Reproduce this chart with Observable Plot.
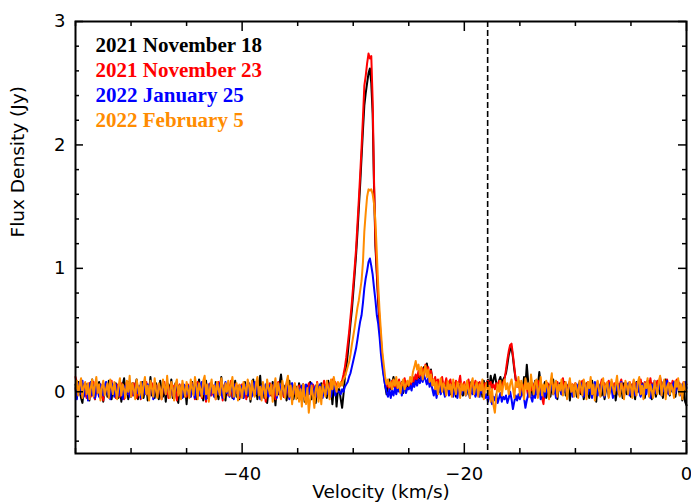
<!DOCTYPE html>
<html>
<head>
<meta charset="utf-8">
<script src="https://cdn.jsdelivr.net/npm/d3@7"></script>
<script src="https://cdn.jsdelivr.net/npm/@observablehq/plot@0.6"></script>
<style>html,body{margin:0;padding:0;background:#fff;}</style>
</head>
<body>
<div id="chart"></div>
<script>
// ---- data, flux in units of 0.01 Jy ----
const seriesNames = ["2021 November 18", "2021 November 23", "2022 January 25", "2022 February 5"];
const seriesColors = ["#000000", "#ff0000", "#0000ff", "#ff8c00"];
const vStart = -55;     // first channel (km/s)
const vStep = 0.125;    // channel width (km/s)

const nov18 = [
6,-3,8,1,-5,-9,2,7,-4,3,-7,5,10,-2,-6,4,-1,8,-5,2,-8,3,6,-4,9,0,-6,5,-3,7,2,-5,4,-8,6,11,-2,3,-6,4,
-4,7,-2,5,10,-6,2,-3,8,-5,3,6,-7,1,12,-3,4,-5,7,0,-6,9,2,-4,5,-8,3,6,-2,10,-5,2,7,-3,-9,4,-1,6,-4,3,
-10,5,2,-4,8,-2,6,-6,3,10,-3,4,-7,2,9,-5,1,6,-2,5,-4,8,0,-6,3,12,-2,4,-7,5,2,-3,7,-5,1,9,-4,3,-6,4,
3,-5,8,1,-4,6,-8,2,10,-3,5,-6,4,13,-2,7,-5,3,-9,1,6,-3,8,2,-11,4,-2,7,14,3,-4,5,-7,2,9,-3,5,-6,1,4,
-5,7,2,-4,6,-8,3,5,-2,8,-6,4,0,-9,5,2,-4,7,-3,6,1,-5,9,-2,4,-10,3,6,-12,2,2,-6,-13,-2,12,20,30,42,55,66,
80,95,110,128,148,168,190,212,232,242,250,258,262,250,225,165,118,95,72,55,38,25,14,5,-2,6,10,2,7,12,4,9,1,6,3,8,-1,5,2,7,
3,8,5,10,7,13,9,15,11,18,14,20,17,23,16,12,18,9,6,10,3,7,0,5,9,2,-3,6,4,8,-2,5,1,7,-4,3,6,0,4,-3,
5,2,7,-2,4,8,1,6,-3,3,7,0,5,-4,9,3,6,10,2,13,5,10,14,7,3,9,12,6,10,12,15,22,30,34,36,28,18,10,5,9,
3,7,0,12,5,22,8,2,6,-3,4,9,1,5,16,6,-2,3,8,-5,2,6,-4,4,10,0,5,-6,3,7,-2,4,8,-3,2,6,-7,3,5,0,
6,-4,3,8,-2,5,-6,2,7,0,-5,4,9,-2,3,-8,5,1,6,-3,4,-6,2,7,-4,3,8,-1,5,-7,2,6,-3,4,-5,7,1,-2,5,3,
-4,6,2,-6,8,0,4,-3,7,2,-5,5,9,-2,3,-6,6,1,-4,7,3,-2,8,-5,4,10,-1,5,-3,6,0,7,-4,3,9,-2,5,-7,2,-8,
-11];

const nov23 = [
12,7,-2,4,9,-3,6,1,-5,3,7,-4,2,8,-6,3,5,-2,6,0,-7,4,2,6,-3,5,9,-1,3,-5,6,2,-4,7,1,-6,4,8,-2,3,
5,-3,7,1,-5,4,2,-6,6,3,-2,8,0,-5,4,7,-3,2,5,-4,6,1,-6,3,8,-2,4,-5,2,7,-3,5,1,-7,4,6,-2,3,0,5,
-4,6,2,-3,7,0,-6,4,8,-2,3,-5,6,1,-8,4,2,7,-3,5,0,-6,4,8,-2,3,-7,5,1,6,-3,4,9,-4,2,6,-1,5,-5,3,
6,-2,4,-6,5,1,-4,7,2,-3,5,9,-2,3,-5,6,0,-8,4,2,7,-3,5,1,-6,4,8,-2,3,6,-4,2,7,0,-5,5,3,-2,6,1,
-3,5,2,-5,6,1,4,-4,7,2,-2,6,3,-4,8,1,5,-3,4,9,2,6,0,7,4,10,3,8,5,6,4,6,9,14,20,28,38,48,60,72,
86,100,115,135,155,176,198,222,248,256,266,274,270,272,236,170,122,98,76,58,42,28,15,8,4,7,2,5,9,4,8,2,6,10,3,7,5,11,4,8,
6,10,4,12,8,14,10,17,12,15,19,13,22,16,20,12,17,10,6,12,5,10,2,8,12,4,6,11,3,7,10,2,6,4,9,0,7,13,3,5,
8,2,6,10,3,-1,7,4,9,2,5,8,1,6,3,7,4,9,5,8,3,6,2,7,4,9,6,3,8,10,18,26,33,38,39,30,20,10,4,7,
2,6,-2,5,8,3,-4,6,1,7,4,-2,5,9,3,6,-5,-10,2,5,7,1,4,10,3,6,0,8,5,2,6,11,3,7,1,5,9,2,6,4,
7,2,5,-1,6,9,3,0,5,8,2,6,4,-2,7,3,8,1,5,10,4,7,2,6,9,3,5,0,7,4,8,2,6,10,4,1,7,5,3,8,
5,2,9,4,7,1,6,10,3,5,8,2,6,4,11,3,7,0,5,9,4,12,6,2,8,5,10,3,7,4,9,2,6,10,3,7,1,5,8,4,
6];

const jan25 = [
3,-6,7,-2,5,9,-4,2,6,-7,4,8,-3,5,-5,7,1,-4,6,2,-3,5,8,-2,4,-6,7,3,-4,6,1,-3,7,4,-6,3,5,-2,8,-4,
4,6,-3,3,7,-1,5,-5,4,8,-2,3,6,-4,5,2,-6,7,2,-3,5,1,-5,6,3,-2,8,2,-4,5,3,-6,4,7,-2,5,1,-5,6,3,
-2,5,2,-4,6,3,-5,7,1,-3,5,8,-2,3,-6,4,6,-3,5,1,-4,6,3,-2,7,0,-5,4,8,-1,3,-4,5,2,-6,6,1,4,-3,5,
2,-5,6,3,-3,7,1,-4,5,8,-2,4,2,-6,5,3,-2,6,0,-4,5,2,-3,7,4,-5,3,6,-2,4,1,-4,5,3,-6,4,7,-1,3,-3,
4,2,-4,5,1,-5,6,3,-2,4,7,-3,2,5,-4,3,6,0,-5,4,2,-2,5,1,-4,3,6,-3,2,0,0,-2,2,0,4,6,8,12,15,20,
25,30,35,42,50,57,62,72,84,92,98,105,108,102,95,84,74,62,55,44,30,20,12,5,0,-4,2,-5,1,-3,3,-2,4,0,5,-3,2,6,-1,3,
2,5,1,7,4,9,5,10,7,12,8,13,10,6,11,4,8,2,-3,4,-5,2,5,-2,3,6,-4,1,4,-3,2,5,-4,1,3,-5,4,0,-2,3,
1,-3,4,0,-5,3,-2,5,-4,2,0,-4,3,-1,2,-5,-2,-8,-3,-6,-10,-4,-7,-2,-9,-5,-1,-8,-4,-6,-3,-9,-5,0,-6,-14,-8,-3,-7,-2,
-6,-3,1,-5,-13,-7,-2,2,-4,-8,0,-5,2,-3,4,-6,-1,3,-4,0,4,-3,2,5,-2,3,-5,1,6,2,-2,4,0,6,-3,3,7,1,-4,4,
2,6,-3,4,7,0,-4,5,3,-2,6,1,-5,4,8,2,-3,5,0,6,3,-4,5,2,-2,7,3,-5,4,1,6,-2,3,8,0,-4,5,2,7,-3,
4,1,6,-3,5,8,0,-4,6,2,7,-2,4,1,-5,6,3,9,-1,4,2,7,-3,5,0,6,9,-2,4,1,5,8,-1,4,7,2,-3,6,3,8,
3];

const feb5 = [
2,9,-3,6,11,-5,4,8,-2,7,-6,3,10,-4,5,12,-1,6,-7,4,9,-3,2,7,-5,10,4,-2,8,1,-6,5,11,-3,6,2,-5,9,0,13,
-4,7,2,-6,10,4,-3,8,-5,6,12,-2,5,-7,9,3,-4,11,1,-5,7,2,-6,10,4,-2,13,0,-5,8,3,-7,6,10,-3,5,-6,9,2,-4,
8,1,-5,10,3,-3,12,5,-6,7,2,-4,9,13,-2,6,-8,4,10,-1,5,-6,8,2,-3,11,4,-5,7,0,9,-3,5,12,-4,3,7,-7,6,2,
-5,8,3,-2,10,5,-6,9,1,-4,7,12,-3,4,-7,8,2,-5,10,3,-2,6,-8,4,11,-3,7,0,-6,9,2,-5,8,13,-4,5,-10,3,7,-6,
4,-8,2,-12,6,-5,-10,3,-17,-6,5,-3,-13,2,7,-8,4,-10,6,1,-4,9,3,-6,10,2,12,5,0,8,4,8,5,10,12,16,20,24,30,38,
45,52,60,68,74,82,90,105,130,145,158,164,163,164,160,152,138,112,86,65,48,32,22,12,6,10,4,8,2,10,5,12,3,8,-1,7,10,2,6,9,
5,12,8,16,20,25,18,22,14,20,10,16,21,12,18,8,14,5,10,2,8,-2,6,11,0,7,4,-3,9,2,6,-4,10,3,-2,8,5,-5,7,1,
6,-3,9,2,-5,7,11,-2,4,8,-4,6,1,10,-6,3,7,-2,5,-8,2,-11,-17,-4,6,0,9,-3,5,10,2,7,-2,6,10,3,-5,8,4,12,
-3,9,4,-6,11,2,7,-4,14,5,-2,8,10,-5,3,12,-3,6,0,9,4,-6,7,15,-2,5,9,-4,6,1,10,-3,5,8,-6,3,11,0,6,-4,
7,2,-5,9,4,-3,10,5,-6,8,3,12,-2,6,-7,4,9,1,-4,7,11,-3,5,8,-5,2,10,4,-2,6,13,0,-4,7,3,-6,9,5,-2,8,
4,-5,10,2,-3,8,12,-2,5,-6,7,3,11,-4,6,1,-5,9,3,-2,8,13,-3,5,10,-6,4,7,-2,6,2,-5,9,4,11,-3,6,-6,8,2,
0];

const systemicVelocity = -17.9;   // dashed vertical line (km/s)

// axis domains and tick values
const xDomain = [-55, 0];
const yDomain = [-0.5, 3];
const xMajorTicks = [-40, -20, 0];
const xMinorTicks = [-55, -50, -45, -35, -30, -25, -15, -10, -5];
const yMajorTicks = [0, 1, 2, 3];
const yMinorTicks = [-0.4, -0.2, 0.2, 0.4, 0.6, 0.8, 1.2, 1.4, 1.6, 1.8, 2.2, 2.4, 2.6, 2.8];

// ---- build table ----
const allSeries = [nov18, nov23, jan25, feb5];
const rows = [];
allSeries.forEach((vals, s) => {
  vals.forEach((c, i) => rows.push({v: vStart + i * vStep, flux: c / 100, series: seriesNames[s]}));
});

// ---- layout ----
const W = 691, H = 502;
const mL = 75, mR = 5, mT = 21, mB = 49;
const innerW = W - mL - mR, innerH = H - mT - mB;
const xPerPx = (xDomain[1] - xDomain[0]) / innerW;
const yPerPx = (yDomain[1] - yDomain[0]) / innerH;
const tw = 1.5;

const xTicks = (vals, len) => [
  Plot.ruleX(vals, {x: d => d, y1: () => yDomain[0], y2: () => yDomain[0] + len * yPerPx, stroke: "black", strokeWidth: tw}),
  Plot.ruleX(vals, {x: d => d, y1: () => yDomain[1] - len * yPerPx, y2: () => yDomain[1], stroke: "black", strokeWidth: tw})
];
const yTicks = (vals, len) => [
  Plot.ruleY(vals, {y: d => d, x1: () => xDomain[0], x2: () => xDomain[0] + len * xPerPx, stroke: "black", strokeWidth: tw}),
  Plot.ruleY(vals, {y: d => d, x1: () => xDomain[1] - len * xPerPx, x2: () => xDomain[1], stroke: "black", strokeWidth: tw})
];

const legendMarks = seriesNames.map((name, i) =>
  Plot.text([name], {
    frameAnchor: "top-left", dx: 20, dy: 16 + 25 * i, lineAnchor: "top", textAnchor: "start",
    fill: seriesColors[i], fontSize: 21, fontWeight: "bold", fontFamily: "Liberation Serif, serif"
  })
);

const chart = Plot.plot({
  width: W, height: H,
  marginLeft: mL, marginRight: mR, marginTop: mT, marginBottom: mB,
  style: {fontFamily: "DejaVu Sans, sans-serif"},
  x: {domain: xDomain, label: null},
  y: {domain: yDomain, label: null},
  color: {domain: seriesNames, range: seriesColors},
  marks: [
    Plot.line(rows, {x: "v", y: "flux", z: "series", stroke: "series", strokeWidth: 2}),
    Plot.ruleX([systemicVelocity], {stroke: "black", strokeWidth: 1.6, strokeDasharray: "6,3"}),
    Plot.axisX({anchor: "bottom", ticks: xMajorTicks, tickSize: 0, tickPadding: 14, fontSize: 18, label: null}),
    Plot.axisY({anchor: "left", ticks: yMajorTicks, tickSize: 0, tickPadding: 10, fontSize: 18, label: null, tickFormat: d3.format("d")}),
    Plot.text(["Velocity (km/s)"], {frameAnchor: "bottom", dy: 39, fontSize: 18.5, lineAnchor: "middle"}),
    Plot.text(["Flux Density (Jy)"], {frameAnchor: "left", dx: -57, rotate: -90, fontSize: 18.5, lineAnchor: "middle"}),
    Plot.frame({stroke: "black", strokeWidth: 2}),
    ...legendMarks,
    ...xTicks(xMajorTicks, 10),
    ...xTicks(xMinorTicks, 5),
    ...yTicks(yMajorTicks, 8),
    ...yTicks(yMinorTicks, 4)
  ]
});

document.getElementById("chart").appendChild(chart);
</script>
</body>
</html>
